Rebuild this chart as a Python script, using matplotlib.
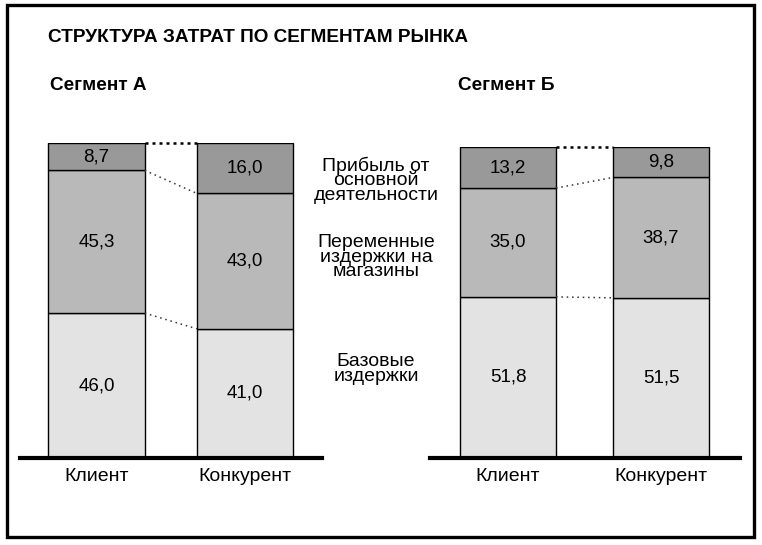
import matplotlib.pyplot as plt
from matplotlib.patches import Rectangle

plt.rcParams['font.family'] = ['Liberation Sans', 'DejaVu Sans']

W, H = 762, 545

bars = ['Клиент', 'Конкурент']
layer_names = ['Базовые\nиздержки', 'Переменные\nиздержки на\nмагазины',
               'Прибыль от\nосновной\nдеятельности']
seg_a_base = [46.0, 41.0]
seg_a_var = [45.3, 43.0]
seg_a_profit = [8.7, 16.0]
seg_b_base = [51.8, 51.5]
seg_b_var = [35.0, 38.7]
seg_b_profit = [13.2, 9.8]
colors = ['#e3e3e3', '#b9b9b9', '#999999']


def px_axes(fig, left, right, bottom, height):
    # pixel coords measured from top-left of the picture
    return fig.add_axes([left / W, (H - bottom) / H, (right - left) / W, height / H])


def draw_segment(ax, layers, width, xlim):
    x = [0, 1]
    bottoms = [0, 0]
    tops = []
    for vals, col in zip(layers, colors):
        ax.bar(x, vals, width, bottom=bottoms, color=col, edgecolor='black', linewidth=1)
        for xi, b, v in zip(x, bottoms, vals):
            ax.text(xi, b + v / 2, f'{v:.1f}'.replace('.', ','), ha='center', va='center',
                    fontsize=13.5)
        bottoms = [b + v for b, v in zip(bottoms, vals)]
        tops.append(list(bottoms))
    # dotted connectors between the bars
    for i, t in enumerate(tops):
        if i == len(tops) - 1:
            ax.plot([width / 2, 1 - width / 2], t, color='black', lw=1.8,
                    linestyle=(0, (1.2, 1.6)), clip_on=False)
        else:
            ax.plot([width / 2, 1 - width / 2], t, color='#333333', lw=1.1,
                    linestyle=(0, (1, 2.5)), clip_on=False)
    ax.set_xlim(*xlim)
    ax.set_ylim(0, 100)
    ax.set_xticks(x)
    ax.set_xticklabels(bars, fontsize=14)
    ax.tick_params(axis='x', length=0, pad=7)
    ax.set_yticks([])
    for s in ['top', 'left', 'right']:
        ax.spines[s].set_visible(False)
    ax.spines['bottom'].set_linewidth(3)
    ax.patch.set_alpha(0)


fig = plt.figure(figsize=(W / 100, H / 100), dpi=100)
fig.patch.set_facecolor('white')

ax_a = px_axes(fig, 20, 322, 458, 315)
draw_segment(ax_a, [seg_a_base, seg_a_var, seg_a_profit], 0.65, (-0.515, 1.518))

ax_b = px_axes(fig, 430, 740, 458, 311)
draw_segment(ax_b, [seg_b_base, seg_b_var, seg_b_profit], 0.627, (-0.51, 1.516))

# frame around the whole picture
fig.patches.append(Rectangle((6.5 / W, (H - 537) / H), (754 - 6.5) / W, (537 - 5) / H,
                             transform=fig.transFigure, fill=False,
                             edgecolor='black', linewidth=2.4))

fig.text(48 / W, 1 - 37 / H, 'СТРУКТУРА ЗАТРАТ ПО СЕГМЕНТАМ РЫНКА',
         fontsize=13.7, fontweight='bold', ha='left', va='center')
fig.text(50 / W, 1 - 86 / H, 'Сегмент А', fontsize=13.7, fontweight='bold',
         ha='left', va='center')
fig.text(458 / W, 1 - 86 / H, 'Сегмент Б', fontsize=13.7, fontweight='bold',
         ha='left', va='center')

label_y = [369, 257, 180]
for name, yy in zip(layer_names, label_y):
    fig.text(376 / W, 1 - yy / H, name, fontsize=14, ha='center', va='center',
             linespacing=0.8)

fig.savefig('out.png', dpi=100)
